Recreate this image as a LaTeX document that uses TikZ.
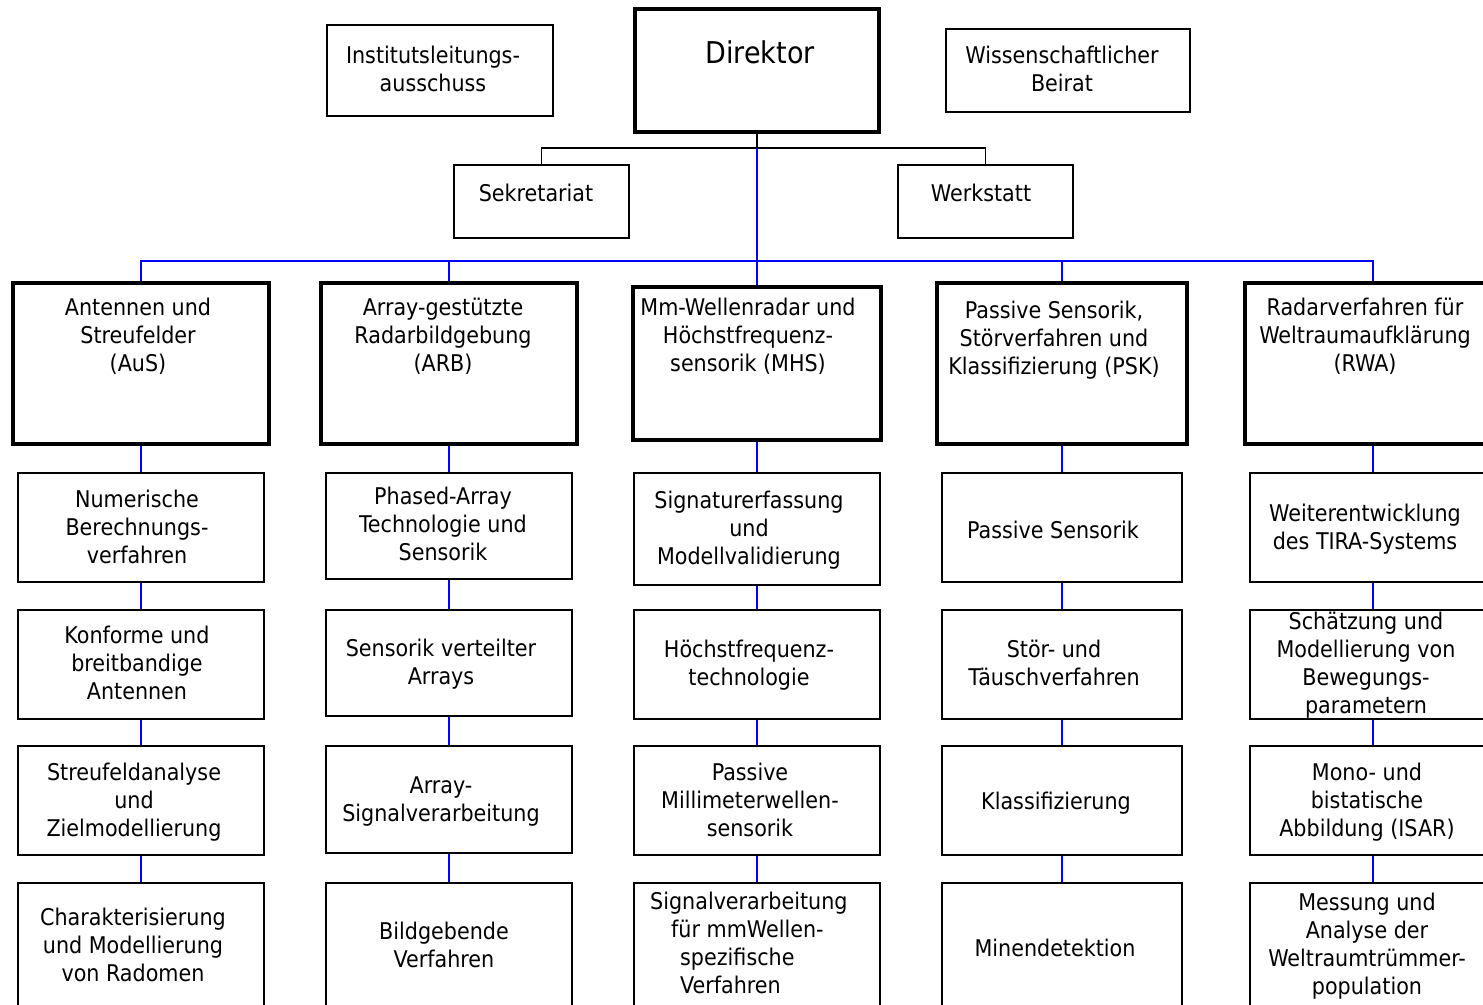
\documentclass[tikz,border=0pt]{standalone}
\usepackage{fontspec}
\setmainfont{DejaVu Sans Condensed}
\newcommand\tb[1]{\begin{tabular}{@{}c@{}}#1\end{tabular}}
\newcommand\tbl[1]{\begin{tabular}{@{}l@{}}#1\end{tabular}}
\tikzset{
  box/.style={draw=black, line width=1.4pt, rectangle, inner sep=0pt, fill=white},
  thickbox/.style={draw=black, line width=4pt, rectangle, inner sep=0pt, fill=white},
  txt/.style={inner sep=0pt, font=\fontsize{23}{28}\selectfont},
  bigtxt/.style={inner sep=0pt, font=\fontsize{30}{36}\selectfont},
  blk/.style={draw=black, line width=1.5pt},
  blu/.style={draw=blue, line width=2pt},
}
\begin{document}
\begin{tikzpicture}[x=1pt,y=-1pt]
\useasboundingbox (0,0) rectangle (1483,1004);
\fill[white] (0,0) rectangle (1483,1004);
\clip (0,0) rectangle (1483,1004);

% connectors (drawn first)
\coordinate (j) at (757,148);
\coordinate (bj) at (757,261);

% top boxes
\node[box, minimum width=226pt, minimum height=91pt] (inst) at (440,70.5) {};
\node[thickbox, minimum width=244pt, minimum height=123pt] (dir) at (757,70.5) {};
\node[box, minimum width=244pt, minimum height=83pt] (wiss) at (1068,70.5) {};
\node[box, minimum width=175pt, minimum height=73pt] (sek) at (541.5,201.5) {};
\node[box, minimum width=175pt, minimum height=73pt] (werk) at (985.5,201.5) {};

\node[txt] at (433,72) {\tb{Institutsleitungs-\\ausschuss}};
\node[bigtxt] at (760,52) {Direktor};
\node[txt] at (1062,72) {\tb{Wissenschaftlicher\\Beirat}};
\node[txt] at (536,193) {Sekretariat};
\node[txt] at (981,193) {Werkstatt};

% departments
\node[thickbox, minimum width=256pt, minimum height=161pt] (aus) at (141,363.5) {};
\node[thickbox, minimum width=256pt, minimum height=161pt] (arb) at (449,363.5) {};
\node[thickbox, minimum width=248pt, minimum height=153pt] (mhs) at (757,363.5) {};
\node[thickbox, minimum width=250pt, minimum height=161pt] (psk) at (1062,363.5) {};
\node[thickbox, minimum width=256pt, minimum height=161pt] (rwa) at (1373,363.5) {};

\node[txt] at (138,338) {\tb{Antennen und\\Streufelder\\(AuS)}};
\node[txt] at (443,338) {\tb{Array-gestützte\\Radarbildgebung\\(ARB)}};
\node[txt] at (748,338) {\tb{Mm-Wellenradar und\\Höchstfrequenz-\\sensorik (MHS)}};
\node[txt] at (1054,341) {\tb{Passive Sensorik,\\Störverfahren und\\Klassifizierung (PSK)}};
\node[txt] at (1365,338) {\tb{Radarverfahren für\\Weltraumaufklärung\\(RWA)}};

% column 1
\node[box, minimum width=246pt, minimum height=109pt] (a1) at (141,527.5) {};
\node[box, minimum width=246pt, minimum height=109pt] (a2) at (141,664.5) {};
\node[box, minimum width=246pt, minimum height=109pt] (a3) at (141,800.5) {};
\node[box, minimum width=246pt, minimum height=127pt] (a4) at (141,946.5) {};
\node[txt] at (137,529.5) {\tb{Numerische\\Berechnungs-\\verfahren}};
\node[txt] at (137,666) {\tb{Konforme und\\breitbandige\\Antennen}};
\node[txt] at (134,803) {\tb{Streufeldanalyse\\und\\Zielmodellierung}};
\node[txt] at (133,948) {\tb{Charakterisierung\\und Modellierung\\von Radomen}};

% column 2
\node[box, minimum width=246pt, minimum height=106pt] (b1) at (449,526) {};
\node[box, minimum width=246pt, minimum height=106pt] (b2) at (449,663) {};
\node[box, minimum width=246pt, minimum height=107pt] (b3) at (449,799.5) {};
\node[box, minimum width=246pt, minimum height=127pt] (b4) at (449,946.5) {};
\node[txt] at (443,527) {\tb{Phased-Array\\Technologie und\\Sensorik}};
\node[txt] at (441,664.5) {\tb{Sensorik verteilter\\Arrays}};
\node[txt] at (441,802) {\tb{Array-\\Signalverarbeitung}};
\node[txt] at (444,948) {\tb{Bildgebende\\Verfahren}};

% column 3
\node[box, minimum width=246pt, minimum height=112pt] (c1) at (757,529) {};
\node[box, minimum width=246pt, minimum height=109pt] (c2) at (757,664.5) {};
\node[box, minimum width=246pt, minimum height=109pt] (c3) at (757,800.5) {};
\node[box, minimum width=246pt, minimum height=127pt] (c4) at (757,946.5) {};
\node[txt] at (749,531) {\tb{Signaturerfassung\\und\\Modellvalidierung}};
\node[txt] at (749,666) {\tb{Höchstfrequenz-\\technologie}};
\node[txt] at (750,803) {\tb{Passive\\Millimeterwellen-\\sensorik}};
\node[txt, anchor=west] at (650,946) {\tbl{Signalverarbeitung\\\hspace*{21pt}für mmWellen-\\\hspace*{30pt}spezifische\\\hspace*{30pt}Verfahren}};

% column 4
\node[box, minimum width=240pt, minimum height=109pt] (d1) at (1062,527.5) {};
\node[box, minimum width=240pt, minimum height=109pt] (d2) at (1062,664.5) {};
\node[box, minimum width=240pt, minimum height=109pt] (d3) at (1062,800.5) {};
\node[box, minimum width=240pt, minimum height=127pt] (d4) at (1062,946.5) {};
\node[txt] at (1053,530) {Passive Sensorik};
\node[txt] at (1054,666) {\tb{Stör- und\\Täuschverfahren}};
\node[txt] at (1056,803) {Klassifizierung};
\node[txt] at (1055,948) {Minendetektion};

% column 5
\node[box, minimum width=246pt, minimum height=109pt] (e1) at (1373,527.5) {};
\node[box, minimum width=246pt, minimum height=109pt] (e2) at (1373,664.5) {};
\node[box, minimum width=246pt, minimum height=109pt] (e3) at (1373,800.5) {};
\node[box, minimum width=246pt, minimum height=127pt] (e4) at (1373,946.5) {};
\node[txt] at (1365,529.5) {\tb{Weiterentwicklung\\des TIRA-Systems}};
\node[txt] at (1366,666) {\tb{Schätzung und\\Modellierung von\\Bewegungs-\\parametern}};
\node[txt] at (1367,803) {\tb{Mono- und\\bistatische\\Abbildung (ISAR)}};
\node[txt] at (1367,947) {\tb{Messung und\\Analyse der\\Weltraumtrümmer-\\population}};

% black connectors
\draw[blk] (dir.south) -- (j);
\draw[blk] (sek.north) |- (j) -| (werk.north);

% blue connectors
\draw[blu] (j) -- (bj);
\draw[blu] (aus.north) |- (bj) -| (rwa.north);
\draw[blu] (arb.north) -- (arb.north |- bj);
\draw[blu] (mhs.north) -- (bj);
\draw[blu] (psk.north) -- (psk.north |- bj);

\foreach \d/\a/\b/\c/\e in {aus/a1/a2/a3/a4, arb/b1/b2/b3/b4, mhs/c1/c2/c3/c4, psk/d1/d2/d3/d4, rwa/e1/e2/e3/e4}{
  \draw[blu] (\d.south) -- (\a.north);
  \draw[blu] (\a.south) -- (\b.north);
  \draw[blu] (\b.south) -- (\c.north);
  \draw[blu] (\c.south) -- (\e.north);
}
\end{tikzpicture}
\end{document}
